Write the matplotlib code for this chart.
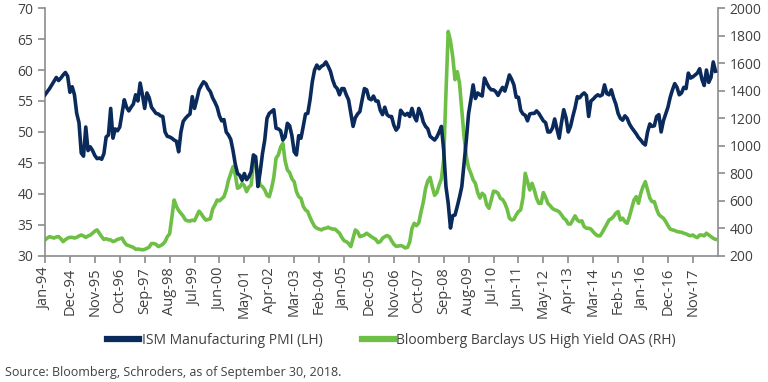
#Import Packages
import numpy as np
import matplotlib
matplotlib.use("Agg")
import matplotlib.pyplot as plt

plt.rcParams['font.family'] = ['Open Sans', 'DejaVu Sans']

# Data: monthly, Jan-94 .. Sep-18
tick_labels = ["Jan-94", "Dec-94", "Nov-95", "Oct-96", "Sep-97", "Aug-98", "Jul-99",
               "Jun-00", "May-01", "Apr-02", "Mar-03", "Feb-04", "Jan-05", "Dec-05",
               "Nov-06", "Oct-07", "Sep-08", "Aug-09", "Jul-10", "Jun-11", "May-12",
               "Apr-13", "Mar-14", "Feb-15", "Jan-16", "Dec-16", "Nov-17"]

# ISM Manufacturing PMI (left axis)
ism_pmi = [
    56.0, 56.5, 57.0, 57.6, 58.2, 58.8, 58.3, 58.7, 59.2, 59.6, 59.0, 56.4,  # 1994
    57.3, 56.0, 53.0, 51.5, 46.6, 46.1, 50.8, 47.0, 47.6, 47.0, 46.2, 45.7,  # 1995
    45.8, 45.6, 46.5, 49.2, 49.5, 53.8, 49.0, 50.5, 50.2, 50.8, 53.0, 55.2,  # 1996
    54.0, 53.4, 54.0, 54.5, 56.0, 55.0, 57.9, 56.0, 53.8, 56.3, 55.5, 54.0,  # 1997
    53.5, 53.0, 52.9, 52.6, 52.5, 50.0, 49.3, 49.2, 49.0, 48.7, 48.5, 46.8,  # 1998
    50.0, 51.7, 52.2, 52.6, 52.9, 55.7, 53.8, 55.2, 56.8, 57.5, 58.1, 57.8,  # 1999
    57.0, 56.5, 55.5, 54.8, 54.0, 52.6, 51.8, 52.0, 50.0, 49.5, 48.8, 47.0,  # 2000
    44.8, 43.3, 43.0, 42.2, 43.3, 42.3, 42.8, 43.6, 46.3, 46.0, 41.2, 43.6,  # 2001
    46.5, 48.7, 52.2, 53.0, 53.3, 53.6, 50.6, 50.5, 50.2, 48.7, 49.2, 51.4,  # 2002
    51.0, 49.4, 46.8, 46.3, 49.4, 49.0, 50.9, 52.9, 53.0, 55.2, 58.1, 60.0,  # 2003
    60.8, 60.2, 60.6, 60.8, 61.3, 60.6, 59.8, 58.4, 57.4, 57.0, 56.0, 57.0,  # 2004
    57.0, 56.0, 55.2, 53.0, 50.9, 52.3, 52.9, 53.3, 55.2, 57.0, 56.8, 55.4,  # 2005
    55.2, 55.8, 55.0, 55.0, 53.5, 52.8, 54.0, 52.8, 52.5, 52.5, 51.1, 50.3,  # 2006
    50.8, 53.5, 53.0, 52.7, 53.0, 52.5, 53.8, 52.5, 51.8, 53.8, 53.0, 51.6,  # 2007
    50.9, 50.5, 49.3, 49.0, 48.7, 49.2, 50.0, 50.9, 47.1, 41.2, 38.5, 34.5,  # 2008
    36.5, 36.6, 38.0, 39.5, 41.2, 45.0, 48.7, 53.0, 55.2, 57.6, 55.4, 56.3,  # 2009
    56.0, 55.8, 58.7, 57.9, 57.2, 56.8, 56.8, 56.5, 55.9, 56.6, 57.2, 56.6,  # 2010
    57.8, 59.2, 58.5, 57.6, 55.6, 55.6, 53.5, 52.9, 52.7, 51.8, 52.9, 53.0,  # 2011
    53.0, 53.4, 53.0, 52.4, 51.8, 51.5, 50.0, 50.0, 50.6, 52.1, 50.5, 49.0,  # 2012
    51.5, 53.6, 52.3, 50.0, 50.9, 52.5, 53.9, 55.7, 55.5, 56.0, 56.3, 55.9,  # 2013
    52.5, 55.0, 55.3, 55.7, 56.0, 55.8, 56.0, 57.6, 56.2, 56.0, 56.8, 55.5,  # 2014
    54.5, 53.0, 52.2, 51.9, 52.6, 52.2, 51.3, 50.7, 50.2, 49.7, 49.1, 48.7,  # 2015
    48.2, 47.9, 50.0, 51.3, 50.9, 51.0, 52.5, 52.8, 50.0, 51.8, 52.9, 54.0,  # 2016
    55.6, 56.8, 57.8, 57.2, 56.0, 56.3, 57.2, 57.0, 59.5, 58.7, 58.9, 59.2,  # 2017
    59.5, 60.2, 58.5, 57.5, 60.0, 58.0, 58.8, 61.3, 59.8,                    # 2018
]

# Bloomberg Barclays US High Yield OAS (right axis, bp)
hy_oas = [
    316, 330, 340, 335, 330, 338, 340, 325, 304, 318, 330, 335,  # 1994
    335, 330, 335, 345, 352, 345, 335, 345, 352, 365, 380, 389,  # 1995
    365, 340, 320, 325, 318, 316, 304, 310, 320, 325, 330, 300,  # 1996
    280, 275, 268, 262, 249, 250, 248, 244, 248, 255, 265, 290,  # 1997
    290, 285, 268, 275, 285, 304, 340, 360, 480, 606, 560, 530,  # 1998
    510, 489, 461, 455, 453, 460, 456, 490, 525, 505, 480, 460,  # 1999
    465, 470, 540, 570, 606, 600, 615, 630, 679, 750, 800, 848,  # 2000
    790, 691, 700, 727, 710, 667, 700, 715, 870, 897, 775, 715,  # 2001
    703, 680, 640, 630, 690, 770, 910, 933, 990, 1018, 890, 824,  # 2002
    805, 760, 739, 667, 630, 618, 560, 534, 522, 480, 445, 415,  # 2003
    401, 395, 389, 398, 401, 408, 400, 395, 395, 380, 365, 335,  # 2004
    311, 304, 290, 268, 329, 389, 375, 340, 345, 352, 365, 352,  # 2005
    340, 330, 320, 297, 304, 328, 340, 348, 340, 310, 285, 270,  # 2006
    272, 275, 270, 258, 262, 300, 400, 437, 420, 440, 520, 590,  # 2007
    690, 745, 770, 700, 640, 660, 715, 760, 900, 1380, 1830, 1760,  # 2008
    1647, 1480, 1538, 1453, 1260, 1066, 920, 840, 800, 752, 727, 660,  # 2009
    620, 655, 640, 570, 546, 606, 670, 667, 655, 618, 610, 582,  # 2010
    540, 475, 461, 466, 498, 522, 535, 620, 800, 740, 679, 727,  # 2011
    680, 618, 582, 582, 660, 625, 582, 565, 545, 535, 530, 520,  # 2012
    498, 474, 461, 432, 432, 461, 491, 461, 449, 455, 413, 401,  # 2013
    401, 395, 375, 358, 346, 346, 370, 401, 430, 461, 470, 486,  # 2014
    510, 522, 461, 474, 449, 437, 486, 546, 606, 630, 582, 655,  # 2015
    703, 739, 680, 620, 594, 594, 540, 500, 486, 474, 450, 420,  # 2016
    395, 389, 385, 377, 374, 372, 365, 360, 352, 346, 352, 340,  # 2017
    333, 352, 352, 346, 365, 352, 340, 328, 321,                 # 2018
]

NAVY = "#0b2a5c"
GREEN = "#6dbf45"
TEXT = "#404040"
AXIS = "#8c8c8c"


def make_plot():
    fig = plt.figure(figsize=(7.68, 3.82), dpi=100)
    ax = fig.add_axes([0.0586, 0.330, 0.876, 0.649])
    ax2 = ax.twinx()

    x = np.arange(len(ism_pmi))
    l1, = ax.plot(x, ism_pmi, color=NAVY, lw=2.6, solid_joinstyle="round", zorder=3)
    l2, = ax2.plot(x, hy_oas, color=GREEN, lw=2.6, solid_joinstyle="round", zorder=2)
    # navy line sits on top of green
    ax.set_zorder(ax2.get_zorder() + 1)
    ax.patch.set_visible(False)

    ax.set_xlim(0, 297)
    ax.set_ylim(30, 70)
    ax.set_yticks(range(30, 71, 5))
    ax2.set_ylim(200, 2000)
    ax2.set_yticks(range(200, 2001, 200))

    ax.set_xticks(np.arange(0, len(tick_labels) * 11, 11))
    ax.set_xticklabels(tick_labels, rotation=90)

    for a in (ax, ax2):
        a.spines["top"].set_visible(False)
        for s in ("left", "right", "bottom"):
            a.spines[s].set_color(AXIS)
            a.spines[s].set_linewidth(1.2)
        a.tick_params(colors=AXIS, labelcolor=TEXT, labelsize=10, length=5, width=1.2)
    ax.tick_params(axis="x", labelsize=10.5)
    ax.spines["right"].set_visible(False)
    ax2.spines["left"].set_visible(False)
    ax2.spines["bottom"].set_visible(False)

    # Legend below the chart
    fig.legend([l1, l2], ["ISM Manufacturing PMI (LH)", "Bloomberg Barclays US High Yield OAS (RH)"],
               loc="center", bbox_to_anchor=(0.51, 0.108), ncol=2, frameon=False,
               fontsize=10, handlelength=2.3, handletextpad=0.2, columnspacing=2.8,
               labelcolor=TEXT)
    for h in fig.legends[0].legend_handles:
        h.set_linewidth(4.5)

    fig.text(0.006, 0.024, "Source: Bloomberg, Schroders, as of September 30, 2018.",
             fontsize=9, color=TEXT, va="center", ha="left")

    fig.savefig("out.png", dpi=100)


if __name__ == '__main__':
    make_plot()
